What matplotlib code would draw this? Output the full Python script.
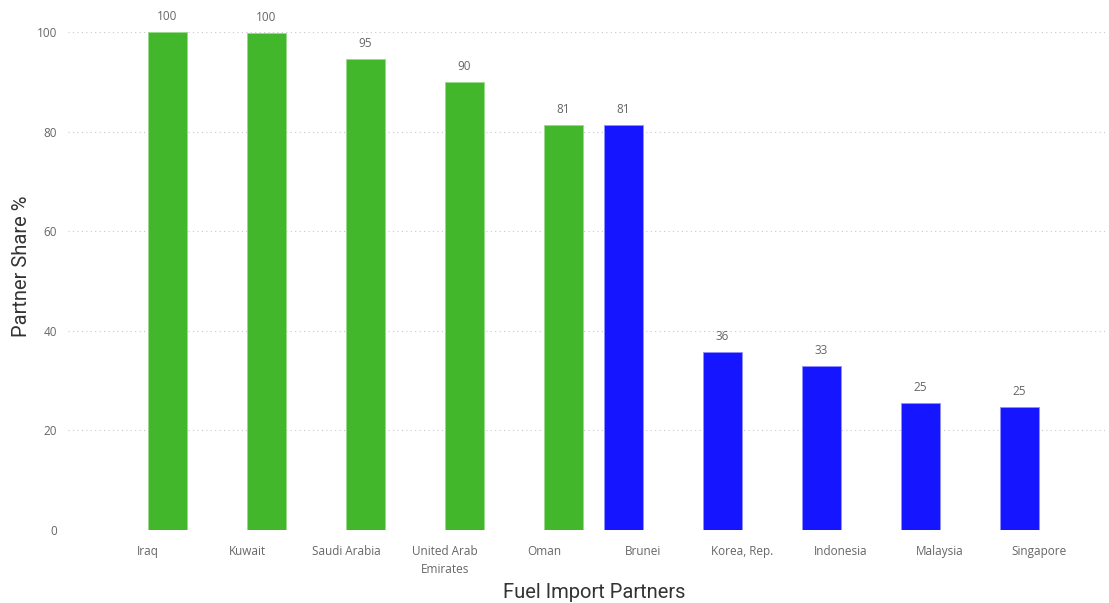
import matplotlib.pyplot as plt
import numpy as np

countries = ["Iraq", "Kuwait", "Saudi Arabia", "United Arab\nEmirates", "Oman",
             "Brunei", "Korea, Rep.", "Indonesia", "Malaysia", "Singapore"]
# two series, green on the right half of a slot, blue on the left half
green_vals = [100, 99.8, 94.6, 90, 81.3, None, None, None, None, None]
blue_vals = [None, None, None, None, None, 81.3, 35.7, 32.9, 25.5, 24.7]
green_lbl = ["100", "100", "95", "90", "81", "", "", "", "", ""]
blue_lbl = ["", "", "", "", "", "81", "36", "33", "25", "25"]

GREEN = "#43B72C"
BLUE = "#1515FF"
GREY = "#666666"

fig = plt.figure(figsize=(11.09, 6.03), dpi=100)
ax = fig.add_axes([68 / 1109, 73 / 603, (1105 - 68) / 1109, (530 - 32) / 603])

x = np.arange(len(countries))
w = 0.394

for i, v in enumerate(green_vals):
    if v is None:
        continue
    ax.bar(x[i] + w / 2, v, w, color=GREEN, edgecolor="#9ad98c", linewidth=0.6, zorder=3)
    ax.text(x[i] + w / 2, v + 1.8, green_lbl[i], ha="center", va="bottom",
            fontsize=8.5, color=GREY, family="Open Sans", clip_on=False)
for i, v in enumerate(blue_vals):
    if v is None:
        continue
    ax.bar(x[i] - w / 2, v, w, color=BLUE, edgecolor="#8f8fff", linewidth=0.6, zorder=3)
    ax.text(x[i] - w / 2, v + 1.8, blue_lbl[i], ha="center", va="bottom",
            fontsize=8.5, color=GREY, family="Open Sans", clip_on=False)

ax.set_xlim(-0.808, 9.667)
ax.set_ylim(0, 100)
ax.set_yticks([0, 20, 40, 60, 80, 100])
ax.set_xticks(x)
ax.set_xticklabels(countries, fontsize=8.5, color=GREY, family="Open Sans", linespacing=1.5)
ax.tick_params(axis="x", length=0, pad=11)
ax.tick_params(axis="y", length=0, pad=8, labelsize=8.5, labelcolor=GREY)
for t in ax.get_yticklabels():
    t.set_family("Open Sans")

ax.grid(axis="y", linestyle=(0, (1, 3)), color="#c8c8c8", linewidth=0.8, zorder=0)
for s in ax.spines.values():
    s.set_visible(False)

fig.text(594 / 1109, 1 - 593 / 603, "Fuel Import Partners", fontsize=14.5, color="#333333",
         family="Roboto", ha="center", va="center")
fig.text(22 / 1109, 1 - 266 / 603, "Partner Share %", fontsize=14.5, color="#333333",
         family="Roboto", ha="center", va="center", rotation=90)

fig.savefig("out.png", dpi=100, facecolor="white")
